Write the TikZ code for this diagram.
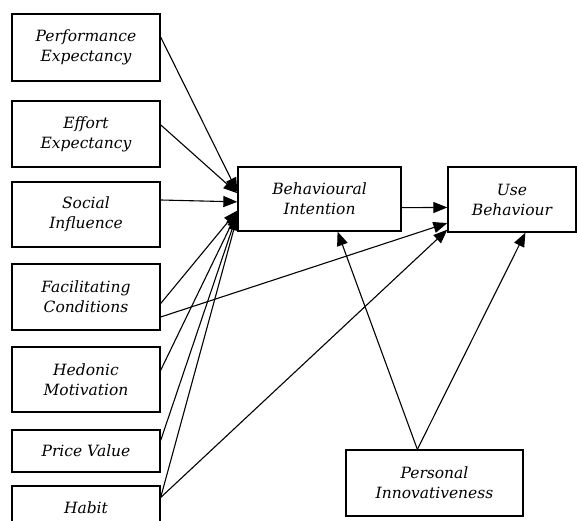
\documentclass[tikz,border=0pt]{standalone}
\usepackage{fontspec}
\setmainfont{DejaVu Serif}
\usetikzlibrary{arrows.meta}

\tikzset{
    box/.style={draw, line width=1.3pt, minimum width=148pt, inner sep=0pt,
        align=center, font=\itshape\fontsize{15.5}{20}\selectfont},
    arr/.style={-{Triangle[length=14pt,width=11pt]}, line width=1.1pt}
}

\begin{document}
\begin{tikzpicture}[x=1pt,y=-1pt]
    \clip (0,0) rectangle (578,520);
    % determinants
    \node[box, minimum height=67pt] (pe) at (86,47.5) {Performance\\Expectancy};
    \node[box, minimum height=66pt] (ee) at (86,134) {Effort\\Expectancy};
    \node[box, minimum height=65pt] (si) at (86,214.5) {Social\\Influence};
    \node[box, minimum height=66pt] (fc) at (86,297) {Facilitating\\Conditions};
    \node[box, minimum height=65pt] (hm) at (86,379.5) {Hedonic\\Motivation};
    \node[box, minimum height=42pt] (pv) at (86,451) {Price Value};
    \node[box, minimum height=44pt] (hb) at (86,508) {Habit};
    % outcomes and moderator
    \node[box, minimum width=163pt, minimum height=64pt] (bi) at (319.5,199) {Behavioural\\Intention};
    \node[box, minimum width=128pt, minimum height=65pt] (ub) at (512,199.5) {Use\\Behaviour};
    \node[box, minimum width=177pt, minimum height=66pt] (pin) at (434.5,483) {Personal\\Innovativeness};
    % paths
    \foreach \a/\b in {pe.8/bi.175, ee.7/bi.176.5, si.11/bi.182, fc.355/bi.188,
        hm.7/bi.189, pv.8.5/bi.190.5, hb.8/bi.192}
        \draw[arr] (\a) -- (\b);
    \foreach \a/\b in {bi.354/ub.187, fc.345/ub.200, hb.8/ub.205,
        pin.117/bi.299, pin.117/ub.292}
        \draw[arr] (\a) -- (\b);
\end{tikzpicture}
\end{document}
